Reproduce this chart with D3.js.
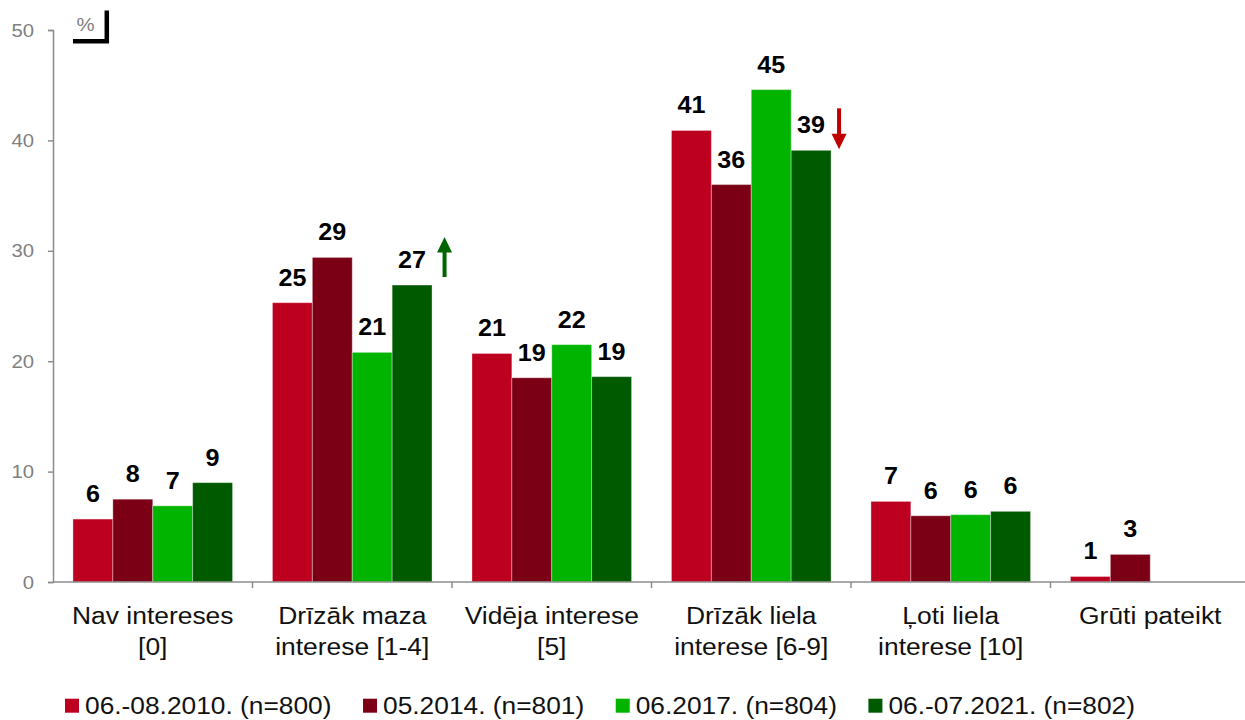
<!DOCTYPE html>
<html>
<head>
<meta charset="utf-8">
<script src="https://cdn.jsdelivr.net/npm/d3@7"></script>
<style>
  html, body { margin: 0; padding: 0; background: #fff; }
  svg { display: block; font-family: "Liberation Sans", Arial, sans-serif; }
</style>
</head>
<body>
<svg id="chart" width="1245" height="720"></svg>
<script>
// ---- data ----
const categories = [
  ["Nav intereses", "[0]"],
  ["Drīzāk maza", "interese [1-4]"],
  ["Vidēja interese", "[5]"],
  ["Drīzāk liela", "interese [6-9]"],
  ["Ļoti liela", "interese [10]"],
  ["Grūti pateikt"]
];
const seriesNames = ["06.-08.2010. (n=800)", "05.2014. (n=801)", "06.2017. (n=804)", "06.-07.2021. (n=802)"];
const seriesColors = ["#BE0020", "#7B0016", "#00B400", "#005A00"];
const values2010 = [5.7, 25.3, 20.7, 40.9, 7.3, 0.5];
const values2014 = [7.5, 29.4, 18.5, 36.0, 6.0, 2.5];
const values2017 = [6.9, 20.8, 21.5, 44.6, 6.1, null];
const values2021 = [9.0, 26.9, 18.6, 39.1, 6.4, null];
const labels2010 = [6, 25, 21, 41, 7, 1];
const labels2014 = [8, 29, 19, 36, 6, 3];
const labels2017 = [7, 21, 22, 45, 6, null];
const labels2021 = [9, 27, 19, 39, 6, null];
const yTicks = [0, 10, 20, 30, 40, 50];
// trend arrows: category index, series index, direction
const arrows = [
  { cat: 1, series: 3, dir: "up", color: "#006400" },
  { cat: 3, series: 3, dir: "down", color: "#C00000" }
];

const seriesValues = [values2010, values2014, values2017, values2021];
const seriesLabels = [labels2010, labels2014, labels2017, labels2021];

// ---- layout ----
const svg = d3.select("#chart");
const mLeft = 53, mBottom = 582, mTop = 30;
const catWidth = 199.5;
const SX = 1.07; // horizontal stretch of the original text rendering

// text helper: places text at (x,y) with horizontal stretch
function stretchedText(parent, x, yy, str, anchor) {
  const g = parent.append("g").attr("transform", `translate(${x},${yy}) scale(${SX},1)`);
  return g.append("text").attr("x", 0).attr("y", 0).attr("text-anchor", anchor || "start").text(str);
}

const x0 = d3.scaleBand()
  .domain(d3.range(categories.length))
  .range([mLeft, mLeft + catWidth * categories.length])
  .paddingInner(0).paddingOuter(0);
const x1 = d3.scaleBand()
  .domain(d3.range(seriesNames.length))
  .range([0, x0.bandwidth()])
  .paddingOuter(0.5).paddingInner(0);
const y = d3.scaleLinear().domain([0, 50]).range([mBottom, mTop]);

const axisColor = "#8c8c8c";

// y axis
const yAxis = svg.append("g")
  .attr("transform", `translate(${mLeft},0)`)
  .call(d3.axisLeft(y).tickValues(yTicks).tickSize(5).tickPadding(14));
yAxis.select(".domain").attr("stroke", axisColor).attr("stroke-width", 1.5);
yAxis.selectAll(".tick line").attr("stroke", axisColor).attr("stroke-width", 1.5);
yAxis.selectAll(".tick text")
  .attr("fill", "#808080")
  .attr("x", -19 / SX)
  .attr("transform", `scale(${SX},1)`)
  .style("font-size", "19px")
  .style("font-family", "'Liberation Sans', Arial, sans-serif");

// bars
const groups = svg.append("g").selectAll("g")
  .data(categories.map((c, i) => i))
  .join("g")
  .attr("transform", i => `translate(${x0(i)},0)`);

groups.each(function(ci) {
  const g = d3.select(this);
  seriesValues.forEach((vals, si) => {
    const v = vals[ci];
    if (v == null) return;
    g.append("rect")
      .attr("x", x1(si))
      .attr("y", y(v))
      .attr("width", x1.bandwidth())
      .attr("height", y(0) - y(v))
      .attr("fill", seriesColors[si])
      .attr("stroke", "rgba(255,255,255,0.35)")
      .attr("stroke-width", 1);
    stretchedText(g, x1(si) + x1.bandwidth() / 2, y(v) - 17, seriesLabels[si][ci], "middle")
      .style("font-size", "23.5px")
      .style("font-weight", "bold")
      .attr("fill", "#000");
  });
});

// x axis
const xAxisG = svg.append("g");
xAxisG.append("line")
  .attr("x1", mLeft).attr("x2", 1245)
  .attr("y1", y(0)).attr("y2", y(0))
  .attr("stroke", axisColor).attr("stroke-width", 1.5);
xAxisG.selectAll("line.tk")
  .data(d3.range(categories.length))
  .join("line")
  .attr("class", "tk")
  .attr("x1", i => x0(i) + x0.bandwidth()).attr("x2", i => x0(i) + x0.bandwidth())
  .attr("y1", y(0)).attr("y2", y(0) + 6)
  .attr("stroke", axisColor).attr("stroke-width", 1.5);

// category labels
const catG = svg.append("g");
categories.forEach((lines, i) => {
  lines.forEach((t, j) => {
    stretchedText(catG, x0(i) + x0.bandwidth() / 2, 623.5 + j * 31, t, "middle")
      .attr("fill", "#111")
      .style("font-size", "24.7px");
  });
});

// % corner mark
stretchedText(svg, 85.5, 31, "%", "middle")
  .attr("fill", "#808080")
  .style("font-size", "19px");
svg.append("path")
  .attr("d", "M73,41.3 H106.8 V10.5")
  .attr("fill", "none")
  .attr("stroke", "#000")
  .attr("stroke-width", 4.5);

// arrows
arrows.forEach(a => {
  const v = seriesValues[a.series][a.cat];
  const ax = x0(a.cat) + x1(a.series) + x1.bandwidth() + (a.dir === "up" ? 12.5 : 8);
  const g = svg.append("g").attr("fill", a.color).attr("stroke", "none");
  if (a.dir === "up") {
    const tail = y(v) - 8, tip = y(v) - 48;
    g.append("rect").attr("x", ax - 2).attr("y", tip + 14).attr("width", 4).attr("height", tail - tip - 14);
    g.append("path").attr("d", `M${ax},${tip} L${ax + 7.5},${tip + 15.5} L${ax - 7.5},${tip + 15.5} Z`);
  } else {
    const tail = y(v) - 42, tip = y(v) - 1;
    g.append("rect").attr("x", ax - 2).attr("y", tail).attr("width", 4).attr("height", tip - tail - 14);
    g.append("path").attr("d", `M${ax},${tip} L${ax + 7.5},${tip - 15.5} L${ax - 7.5},${tip - 15.5} Z`);
  }
});

// legend
const legend = svg.append("g").attr("transform", "translate(65,0)");
let lx = 0;
seriesNames.forEach((name, i) => {
  legend.append("rect").attr("x", lx).attr("y", 698.7).attr("width", 14).attr("height", 14).attr("fill", seriesColors[i]);
  const t = stretchedText(legend, lx + 20, 714.3, name, "start")
    .attr("fill", "#111")
    .style("font-size", "24.6px");
  lx += 20 + t.node().getComputedTextLength() * SX + 31.5;
});
</script>
</body>
</html>
